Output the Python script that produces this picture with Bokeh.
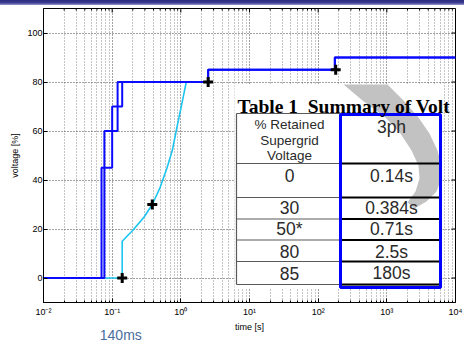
import numpy as np
from bokeh.plotting import figure
from bokeh.layouts import column
from bokeh.models import (FixedTicker, CustomJSTickFormatter, Range1d, LogAxis, Div)
from bokeh.core.properties import value
from bokeh.embed import file_html
from bokeh.resources import INLINE

# ---------------- data ----------------
step_a_t = [0.01, 0.07, 0.1, 0.14, 2.5, 175, 10000]
step_a_v = [0, 45, 70, 80, 85, 90, 90]
step_b_t = [0.01, 0.077, 0.12, 2.5, 175, 10000]
step_b_v = [0, 60, 80, 85, 90, 90]
curve_t = [0.01, 0.14, 0.14, 0.2, 0.29, 0.384, 0.5, 0.63, 0.75, 0.9, 1.05, 1.2, 2.5]
curve_v = [0, 0, 15, 19.5, 24.8, 30, 37, 45, 52, 63, 72, 80, 80]
marker_t = [0.14, 0.384, 2.5, 180]
marker_v = [0, 30, 80, 85]
x_ticks = [1e-2, 1e-1, 1, 10, 100, 1000, 10000]
y_ticks = [0, 20, 40, 60, 80, 100]
table_title = "Table 1\u00a0 Summary of Volt"
table_col1_header = ["% Retained", "Supergrid", "Voltage"]
table_col2_header = "3ph"
table_voltage = ["0", "30", "50*", "80", "85"]
table_time = ["0.14s", "0.384s", "0.71s", "2.5s", "180s"]
note_text = "140ms"

minor_x = [m * 10.0 ** e for e in range(-2, 4) for m in range(2, 10)]

# ---------------- top slide band ----------------
band = Div(text="", width=464, height=5, margin=0,
           styles={"background": "linear-gradient(#2c2c7c, #3a3a92 55%, #9a9acc)"})

# ---------------- main figure ----------------
p = figure(width=464, height=340, x_axis_type="log",
           x_range=Range1d(1e-2, 1e4), y_range=Range1d(-10, 110),
           output_backend="svg", toolbar_location=None, title=None,
           min_border_left=43, min_border_right=9, min_border_top=3,
           min_border_bottom=43, background_fill_color="white",
           border_fill_color="white")
p.outline_line_color = "black"
p.outline_line_width = 1

FL, FR, FT, FB = 43.0, 455.0, 8.0, 302.0
def X(px):
    return 10 ** (-2 + 6 * (px - FL) / (FR - FL))
def Y(py):
    return 110 - 120 * (py - FT) / (FB - FT)

p.xaxis.ticker = FixedTicker(ticks=x_ticks, minor_ticks=minor_x)
p.yaxis.ticker = FixedTicker(ticks=y_ticks)
p.xaxis.formatter = CustomJSTickFormatter(code="""
const sup = {'-':'\u207b','0':'\u2070','1':'\u00b9','2':'\u00b2','3':'\u00b3',
             '4':'\u2074','5':'\u2075','6':'\u2076','7':'\u2077','8':'\u2078','9':'\u2079'};
const e = Math.round(Math.log10(tick));
return '10' + String(e).split('').map(c => sup[c]).join('');
""")
for ax in (p.xaxis, p.yaxis):
    ax.axis_line_color = "black"
    ax.major_tick_line_color = "black"
    ax.major_tick_in = 4
    ax.major_tick_out = 0
    ax.minor_tick_in = 2
    ax.minor_tick_out = 0
    ax.major_label_text_font = "Liberation Sans"
    ax.major_label_text_font_size = "9px"
    ax.major_label_text_color = "black"
    ax.axis_label_text_font = "Liberation Sans"
    ax.axis_label_text_font_size = "9px"
    ax.axis_label_text_font_style = "normal"
    ax.axis_label_text_color = "black"
p.yaxis.minor_tick_line_color = None
p.xaxis.minor_tick_line_color = "black"
p.xaxis.axis_label = "time [s]"
p.yaxis.axis_label = "voltage [%]"
p.yaxis.major_label_standoff = 1
p.xaxis.major_label_standoff = 4
p.xaxis.axis_label_standoff = 2
p.yaxis.axis_label_standoff = 4

# note under the axis ("140ms"), as a second bottom axis with one labelled tick
note_axis = LogAxis(ticker=FixedTicker(ticks=[X(120.3)], minor_ticks=[]),
                    formatter=CustomJSTickFormatter(code="return '%s';" % note_text),
                    axis_line_color=None, major_tick_line_color=None,
                    minor_tick_line_color=None, major_tick_in=0, major_tick_out=0,
                    major_label_standoff=-8, major_label_text_font="Liberation Sans",
                    major_label_text_font_size="14px", major_label_text_color="#4a6ea0")
p.add_layout(note_axis, "below")

p.xgrid.grid_line_color = "#444444"
p.xgrid.grid_line_dash = "1 2"
p.xgrid.minor_grid_line_color = "#8a8a8a"
p.xgrid.minor_grid_line_dash = "1 2"
p.ygrid.grid_line_color = "#444444"
p.ygrid.grid_line_dash = "1 2"

# box ticks on the top and right edges (inward)
p.segment(x0=x_ticks, x1=x_ticks, y0=[Y(8)] * len(x_ticks), y1=[Y(12)] * len(x_ticks),
          line_color="black", line_width=1)
p.segment(x0=minor_x, x1=minor_x, y0=[Y(8)] * len(minor_x), y1=[Y(10)] * len(minor_x),
          line_color="black", line_width=1)
p.segment(x0=[X(451)] * len(y_ticks), x1=[X(455)] * len(y_ticks), y0=y_ticks, y1=y_ticks,
          line_color="black", line_width=1)

# ---------------- series ----------------
p.line(curve_t, curve_v, line_color="#1cc4f0", line_width=1.6)
p.step(step_b_t, step_b_v, mode="after", line_color="#0a0aff", line_width=2)
p.step(step_a_t, step_a_v, mode="after", line_color="#0a0aff", line_width=2)
p.scatter(marker_t, marker_v, marker="cross", size=10, line_width=3, color="black")

# ---------------- pasted table picture (positions in page pixels) ----------------
p.quad(left=[X(234)], right=[X(442)], top=[Y(84)], bottom=[Y(288)],
       fill_color="white", line_color=None)
outer = [(387, 84), (403, 100), (418, 117), (429, 133), (437, 150), (441, 165),
         (441, 178), (436, 191), (426, 201), (414, 208)]
inner = [(407, 202), (415, 191), (419, 178), (418, 165), (411, 150), (400, 133),
         (385, 117), (362, 100), (343, 84)]
shape = outer + inner
p.patch([X(a) for a, b in shape], [Y(b) for a, b in shape],
        fill_color="#c2c2c2", line_color=None)
p.quad(left=[X(342)], right=[X(438)], top=[Y(284)], bottom=[Y(288)],
       fill_color="#d0d0d0", line_color=None)

rows = [163, 197, 218.5, 239.5, 261, 284]
p.segment(x0=[X(236)] * 7, x1=[X(340)] * 7, y0=[Y(r) for r in [113] + rows],
          y1=[Y(r) for r in [113] + rows], line_color="#5a5a5a", line_width=1.2)
p.segment(x0=[X(236)], x1=[X(236)], y0=[Y(113)], y1=[Y(284)],
          line_color="#5a5a5a", line_width=1.2)
p.segment(x0=[X(340)] * 6, x1=[X(440)] * 6, y0=[Y(r) for r in rows],
          y1=[Y(r) for r in rows], line_color="black", line_width=2)
p.quad(left=[X(340)], right=[X(440)], top=[Y(114)], bottom=[Y(287)],
       fill_color=None, line_color="#0000ff", line_width=3)

p.text(x=[X(237)], y=[Y(105.5)], text=[table_title], text_font=value("Liberation Serif"),
       text_font_style="bold", text_font_size="19.5px", text_color="black",
       text_align="left", text_baseline="alphabetic")
p.text(x=[X(289)] * 3, y=[Y(v) for v in (123.5, 139.5, 155)], text=table_col1_header,
       text_font=value("Liberation Sans"), text_font_size="13.5px", text_color="#2a2a2a",
       text_align="center", text_baseline="middle")
p.text(x=[X(391)], y=[Y(126.5)], text=[table_col2_header],
       text_font=value("Liberation Sans"), text_font_size="17.5px", text_color="#2a2a2a",
       text_align="center", text_baseline="middle")
row_mid = [175, 207, 228.5, 251, 272.5]
p.text(x=[X(289)] * 5, y=[Y(v) for v in row_mid], text=table_voltage,
       text_font=value("Liberation Sans"), text_font_size="17.5px", text_color="#2a2a2a",
       text_align="center", text_baseline="middle")
p.text(x=[X(391)] * 5, y=[Y(v) for v in row_mid], text=table_time,
       text_font=value("Liberation Sans"), text_font_size="17.5px", text_color="#2a2a2a",
       text_align="center", text_baseline="middle")

layout = column(band, p, spacing=0)
open("out.html", "w").write(file_html(layout, INLINE))
